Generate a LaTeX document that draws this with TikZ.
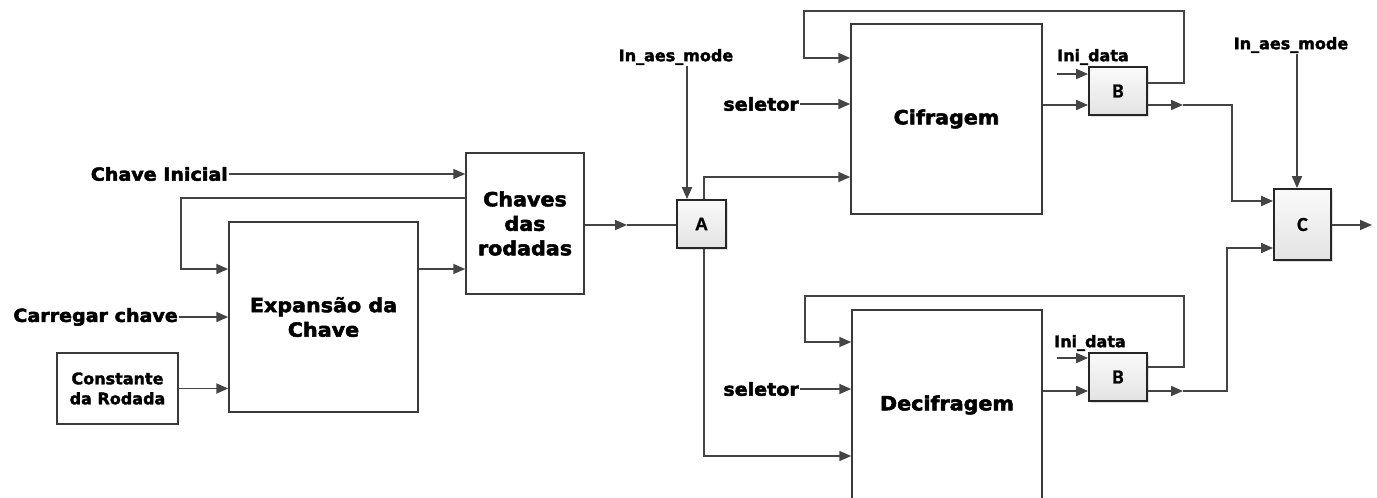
\documentclass[tikz,border=0pt]{standalone}
\usepackage{fontspec}
\usetikzlibrary{arrows.meta,shadows}
\newfontfamily\lblfont{DejaVu Sans}[FakeStretch=1.06,FakeBold=2.6]
\newfontfamily\smallfont{DejaVu Sans}[FakeBold=2]
\newfontfamily\muxfontA{Liberation Sans}[FakeBold=1]
\newfontfamily\muxfontBC{Carlito}[FakeBold=1]
\definecolor{wire}{HTML}{444444}
\definecolor{edge}{HTML}{3A3A3A}
\tikzset{
  wireline/.style={draw=wire, line width=1.8pt},
  arr/.style={wireline, -{Triangle[length=12pt,width=10pt]}},
  block/.style={draw=edge, line width=1.5pt, fill=white, inner sep=0pt,
    align=center, font=\lblfont\bfseries\fontsize{19.5}{24.5}\selectfont},
  smallblock/.style={block, font=\smallfont\bfseries\fontsize{16}{20}\selectfont},
  mux/.style={draw=black!85, line width=1.8pt, inner sep=0pt,
    top color=gray!4, bottom color=gray!22,
    drop shadow={opacity=0.25, shadow xshift=2pt, shadow yshift=-2pt}},
  sidelabel/.style={inner sep=1pt, font=\lblfont\bfseries\fontsize{18}{21}\selectfont},
  tinylabel/.style={inner sep=1pt, font=\smallfont\bfseries\fontsize{16}{19}\selectfont},
}
\begin{document}
\begin{tikzpicture}[x=1pt, y=-1pt]
\useasboundingbox (0,0) rectangle (1377,498);

% ---- key schedule ----
\node[block, minimum width=118pt, minimum height=141pt] (chaves) at (525,223.5) {Chaves\\das\\rodadas};
\node[block, minimum width=189pt, minimum height=190pt] (exp) at (323.5,317) {Expans\~ao da\\Chave};
\node[smallblock, minimum width=121pt, minimum height=71pt] (const) at (117.5,388.5) {Constante\\da Rodada};

\node[sidelabel, anchor=east] (ci) at (229,174) {Chave Inicial};
\node[sidelabel, anchor=east] (cc) at (179,317) {Carregar chave};

% ---- cipher / decipher ----
\node[block, minimum width=191pt, minimum height=190pt] (cif) at (946.5,119) {Cifragem};
\node[block, minimum width=190pt, minimum height=190pt] (decif) at (947,405) {Decifragem};

\node[sidelabel, anchor=east] (sel1) at (800,104) {seletor};
\node[sidelabel, anchor=east] (sel2) at (800,389) {seletor};

% ---- multiplexers ----
\node[mux, minimum width=49pt, minimum height=48pt, font=\muxfontA\bfseries\fontsize{18}{20}\selectfont] (A) at (701.5,224) {A};
\node[mux, minimum width=58pt, minimum height=48pt, font=\muxfontBC\bfseries\fontsize{20}{22}\selectfont] (B1) at (1118,91) {B};
\node[mux, minimum width=58pt, minimum height=48pt, font=\muxfontBC\bfseries\fontsize{20}{22}\selectfont] (B2) at (1118,377) {B};
\node[mux, minimum width=57pt, minimum height=71pt, font=\muxfontBC\bfseries\fontsize{20}{22}\selectfont] (C) at (1302.5,224.5) {C};

\node[tinylabel] (modeA) at (676,57) {In\_aes\_mode};
\node[tinylabel] (modeC) at (1291,45) {In\_aes\_mode};
\node[tinylabel] (ini1) at (1093,57) {Ini\_data};
\node[tinylabel] (ini2) at (1090,343) {Ini\_data};

\coordinate (ini1s) at (1057,74);
\coordinate (ini2s) at (1057,358);
\coordinate (m1) at (627,225);
\coordinate (m2) at (1183,105);
\coordinate (m3) at (1183,391);
\coordinate (out) at (1372,225);

% ---- key schedule wiring ----
\draw[arr] (ci.east) -- (ci.east -| chaves.west);
\draw[arr] (chaves.west |- 0,198) -- (181,198) -- (181,269) -- (exp.west |- 0,269);
\draw[arr] (exp.east |- 0,269) -- (chaves.west |- 0,269);
\draw[arr] (cc.east) -- (cc.east -| exp.west);
\draw[arr] (const.east) -- (const.east -| exp.west);
\draw[arr] (chaves.east |- m1) -- (m1);
\draw[wireline] (m1) -- (m1 -| A.west);

% ---- mode select A ----
\draw[arr] (modeA.south -| 687,0) -- (A.north -| 687,0);
\draw[arr] (A.north -| 704,0) -- (704,177) -- (cif.west |- 0,177);
\draw[arr] (A.south -| 704,0) -- (704,456) -- (decif.west |- 0,456);

% ---- cipher path ----
\draw[arr] (B1.east |- 0,83) -- (1184,83) -- (1184,11) -- (804,11) -- (804,58) -- (cif.west |- 0,58);
\draw[arr] (sel1.east) -- (sel1.east -| cif.west);
\draw[arr] (cif.east |- 0,105) -- (B1.west |- 0,105);
\draw[arr] (ini1s) -- (ini1s -| B1.west);
\draw[arr] (B1.east |- m2) -- (m2);
\draw[arr] (m2) -- (1232,105) -- (1232,201) -- (C.west |- 0,201);

% ---- decipher path ----
\draw[arr] (B2.east |- 0,367) -- (1184,367) -- (1184,296) -- (805,296) -- (805,342) -- (decif.west |- 0,342);
\draw[arr] (sel2.east) -- (sel2.east -| decif.west);
\draw[arr] (decif.east |- 0,391) -- (B2.west |- 0,391);
\draw[arr] (ini2s) -- (ini2s -| B2.west);
\draw[arr] (B2.east |- m3) -- (m3);
\draw[arr] (m3) -- (1227,391) -- (1227,248) -- (C.west |- 0,248);

% ---- output select C ----
\draw[arr] (modeC.south -| 1297,0) -- (C.north -| 1297,0);
\draw[arr] (C.east |- out) -- (out);
\end{tikzpicture}
\end{document}
